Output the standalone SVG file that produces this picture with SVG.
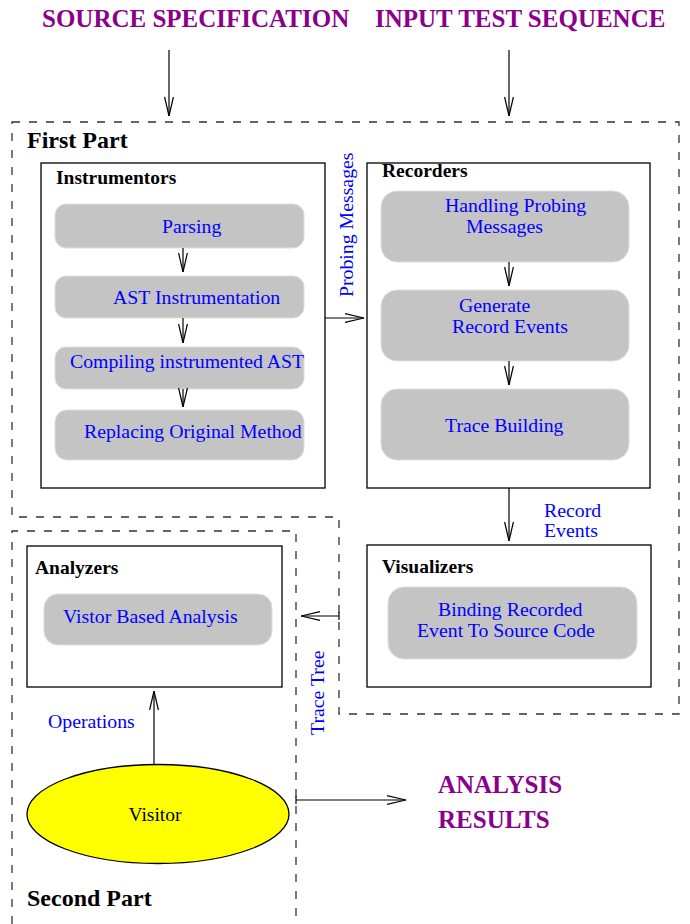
<svg xmlns="http://www.w3.org/2000/svg" width="690" height="924" viewBox="0 0 690 924">
<style>
text{font-family:"Liberation Serif","Times New Roman",serif}
.title{font-size:25px;font-weight:bold;fill:#8b008b}
.part{font-size:24px;font-weight:bold;fill:#000}
.hdr{font-size:19.5px;font-weight:bold;fill:#000}
.lbl{font-size:19.8px;fill:#0000ff}
.box{fill:#fff;stroke:#000;stroke-width:1.3}
.step{fill:#c4c4c4;stroke:#dedede;stroke-width:1}
.dash{fill:none;stroke:#333;stroke-width:1.3;stroke-dasharray:8 9}
.conn{fill:none;stroke:#000;stroke-width:1.2}
</style>
<defs>
<marker id="ah" viewBox="0 0 20 10" refX="20" refY="5" markerWidth="20" markerHeight="10" markerUnits="userSpaceOnUse" orient="auto">
<path d="M1,0.6 L20,5 L1,9.4" fill="none" stroke="#000" stroke-width="1.2"/>
</marker>
</defs>
<rect width="690" height="924" fill="#fff"/>

<g id="title-source"><text class="title" x="42" y="27">SOURCE SPECIFICATION</text></g>
<g id="title-input"><text class="title" x="375" y="27">INPUT TEST SEQUENCE</text></g>

<g id="first-part">
<path class="dash" d="M12,122 H679 V714 H339 V517 H12 Z"/>
<text class="part" x="27" y="148">First Part</text>
</g>
<g id="second-part">
<path class="dash" d="M12,924 V531 H296 V924"/>
<text class="part" x="27" y="906">Second Part</text>
</g>

<g id="instrumentors">
<rect class="box" x="41" y="163" width="284" height="325"/>
<text class="hdr" x="56" y="184">Instrumentors</text>
</g>
<g id="parsing">
<rect class="step" x="55" y="204" width="249" height="44" rx="11"/>
<text class="lbl" x="162" y="233">Parsing</text>
</g>
<g id="ast-instrumentation">
<rect class="step" x="55" y="276" width="249" height="42" rx="11"/>
<text class="lbl" x="113" y="304">AST Instrumentation</text>
</g>
<g id="compiling">
<rect class="step" x="55" y="347" width="249" height="42" rx="11"/>
<text class="lbl" x="70" y="368">Compiling instrumented AST</text>
</g>
<g id="replacing">
<rect class="step" x="55" y="410" width="249" height="50" rx="12"/>
<text class="lbl" x="84" y="438">Replacing Original Method</text>
</g>

<g id="recorders">
<rect class="box" x="367" y="163" width="283" height="325"/>
<text class="hdr" x="382" y="177">Recorders</text>
</g>
<g id="handling">
<rect class="step" x="381" y="191" width="248" height="71" rx="16"/>
<text class="lbl" x="445" y="212">Handling Probing</text>
<text class="lbl" x="466" y="233">Messages</text>
</g>
<g id="generate">
<rect class="step" x="381" y="290" width="248" height="71" rx="16"/>
<text class="lbl" x="459" y="312">Generate</text>
<text class="lbl" x="452" y="333">Record Events</text>
</g>
<g id="trace-building">
<rect class="step" x="381" y="389" width="248" height="71" rx="16"/>
<text class="lbl" x="445" y="432">Trace Building</text>
</g>

<g id="visualizers">
<rect class="box" x="367" y="545" width="284" height="142"/>
<text class="hdr" x="382" y="573">Visualizers</text>
</g>
<g id="binding">
<rect class="step" x="388" y="587" width="249" height="72" rx="16"/>
<text class="lbl" x="438" y="616">Binding Recorded</text>
<text class="lbl" x="417" y="637">Event To Source Code</text>
</g>

<g id="analyzers">
<rect class="box" x="27" y="546" width="255" height="141"/>
<text class="hdr" x="35" y="574">Analyzers</text>
</g>
<g id="visitor-analysis">
<rect class="step" x="44" y="594" width="228" height="51" rx="14"/>
<text class="lbl" x="63" y="623">Vistor Based Analysis</text>
</g>

<g id="visitor">
<ellipse cx="158" cy="814" rx="131" ry="49.5" fill="#ffff00" stroke="#000" stroke-width="1.3"/>
<text x="155" y="821" text-anchor="middle" style="font-size:19.5px;fill:#000">Visitor</text>
</g>

<g id="analysis-results">
<text class="title" x="438" y="793">ANALYSIS</text>
<text class="title" x="438" y="828">RESULTS</text>
</g>

<g id="connectors">
<line class="conn" x1="169" y1="50" x2="169" y2="116" marker-end="url(#ah)"/>
<line class="conn" x1="509" y1="50" x2="509" y2="116" marker-end="url(#ah)"/>
<line class="conn" x1="183" y1="248" x2="183" y2="272" marker-end="url(#ah)"/>
<line class="conn" x1="183" y1="318" x2="183" y2="343" marker-end="url(#ah)"/>
<line class="conn" x1="183" y1="389" x2="183" y2="407" marker-end="url(#ah)"/>
<line class="conn" x1="325" y1="318" x2="364" y2="318" marker-end="url(#ah)"/>
<text class="lbl" transform="translate(353,297) rotate(-90)">Probing Messages</text>
<line class="conn" x1="509" y1="262" x2="509" y2="286" marker-end="url(#ah)"/>
<line class="conn" x1="509" y1="361" x2="509" y2="385" marker-end="url(#ah)"/>
<line class="conn" x1="509" y1="488" x2="509" y2="541" marker-end="url(#ah)"/>
<text class="lbl" x="544" y="517">Record</text>
<text class="lbl" x="544" y="537">Events</text>
<line class="conn" x1="339" y1="616" x2="301" y2="616" marker-end="url(#ah)"/>
<line class="conn" x1="339" y1="612" x2="339" y2="620"/>
<text class="lbl" transform="translate(324,735) rotate(-90)">Trace Tree</text>
<line class="conn" x1="154" y1="764" x2="154" y2="691" marker-end="url(#ah)"/>
<text class="lbl" x="48" y="728">Operations</text>
<line class="conn" x1="296" y1="800" x2="406" y2="800" marker-end="url(#ah)"/>
<line class="conn" x1="296" y1="796" x2="296" y2="804"/>
</g>
</svg>
